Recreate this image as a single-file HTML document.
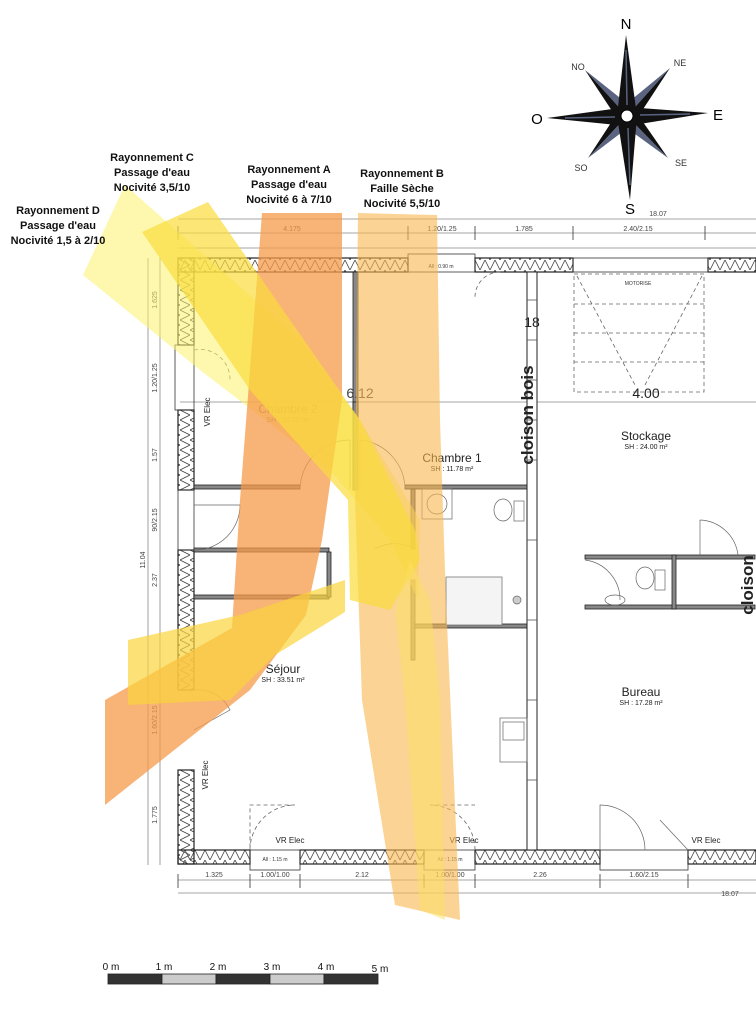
<!DOCTYPE html>
<html><head><meta charset="utf-8"><style>
html,body{margin:0;padding:0;background:#fff;}
svg{display:block;font-family:"Liberation Sans",Arial,sans-serif;}
</style></head><body>
<svg width="756" height="1023" viewBox="0 0 756 1023" xmlns="http://www.w3.org/2000/svg">
<defs>
<pattern id="hatch" width="10" height="10" patternUnits="userSpaceOnUse">
<path d="M0 10 L5 0 L10 10" fill="none" stroke="#444" stroke-width="0.8"/>
</pattern>
<pattern id="hatchv" width="10" height="10" patternUnits="userSpaceOnUse">
<path d="M0 0 L10 5 L0 10" fill="none" stroke="#444" stroke-width="0.8"/>
</pattern>
</defs>

<!-- compass -->
<g>
<polygon points="585,70 634,109 627,116" fill="#5a6480"/>
<polygon points="585,70 620,123 627,116" fill="#111"/>
<polygon points="670,68 620,109 627,116" fill="#5a6480"/>
<polygon points="670,68 634,123 627,116" fill="#111"/>
<polygon points="588,158 620,109 627,116" fill="#111"/>
<polygon points="588,158 634,123 627,116" fill="#5a6480"/>
<polygon points="668,158 634,109 627,116" fill="#111"/>
<polygon points="668,158 620,123 627,116" fill="#5a6480"/>
<polygon points="626,35 617,116 637,116" fill="#111"/>
<polygon points="630,200 617,116 637,116" fill="#111"/>
<polygon points="547,118 627,107 627,126" fill="#111"/>
<polygon points="708,113 627,107 627,126" fill="#111"/>
<line x1="626" y1="50" x2="627" y2="105" stroke="#5a6480" stroke-width="1.5"/>
<line x1="630" y1="185" x2="628" y2="128" stroke="#5a6480" stroke-width="1.5"/>
<line x1="565" y1="118" x2="615" y2="117" stroke="#5a6480" stroke-width="1.5"/>
<line x1="690" y1="114" x2="640" y2="115" stroke="#5a6480" stroke-width="1.5"/>
<circle cx="627" cy="116" r="6" fill="#fff" stroke="#000" stroke-width="1"/>
<text x="626" y="29" font-size="15" text-anchor="middle">N</text>
<text x="630" y="214" font-size="15" text-anchor="middle">S</text>
<text x="537" y="124" font-size="15" text-anchor="middle">O</text>
<text x="718" y="120" font-size="15" text-anchor="middle">E</text>
<text x="578" y="70" font-size="9" text-anchor="middle" fill="#333">NO</text>
<text x="680" y="66" font-size="9" text-anchor="middle" fill="#333">NE</text>
<text x="581" y="171" font-size="9" text-anchor="middle" fill="#333">SO</text>
<text x="681" y="166" font-size="9" text-anchor="middle" fill="#333">SE</text>
</g>

<!-- dimension lines -->
<g stroke="#888" stroke-width="0.8" fill="none">
<line x1="178" y1="219" x2="756" y2="219"/>
<line x1="178" y1="233" x2="756" y2="233"/>
<line x1="178" y1="248" x2="756" y2="248"/>
<line x1="160" y1="258" x2="160" y2="865"/>
<line x1="148" y1="258" x2="148" y2="865"/>
<line x1="178" y1="880" x2="756" y2="880"/>
<line x1="178" y1="893" x2="756" y2="893"/>
<line x1="180" y1="402" x2="756" y2="402"/>
</g>
<g stroke="#333" stroke-width="0.8">
<line x1="178" y1="226" x2="178" y2="240"/><line x1="408" y1="226" x2="408" y2="240"/><line x1="475" y1="226" x2="475" y2="240"/><line x1="573" y1="226" x2="573" y2="240"/><line x1="705" y1="226" x2="705" y2="240"/>
<line x1="178" y1="874" x2="178" y2="888"/><line x1="250" y1="874" x2="250" y2="888"/><line x1="300" y1="874" x2="300" y2="888"/><line x1="424" y1="874" x2="424" y2="888"/><line x1="475" y1="874" x2="475" y2="888"/><line x1="600" y1="874" x2="600" y2="888"/><line x1="688" y1="874" x2="688" y2="888"/>
</g>
<g font-size="7" fill="#444" text-anchor="middle">
<text x="292" y="231">4.175</text><text x="442" y="231">1.20/1.25</text><text x="524" y="231">1.785</text><text x="638" y="231">2.40/2.15</text><text x="658" y="216">18.07</text>
<text x="214" y="877">1.325</text><text x="275" y="877">1.00/1.00</text><text x="362" y="877">2.12</text><text x="450" y="877">1.00/1.00</text><text x="540" y="877">2.26</text><text x="644" y="877">1.60/2.15</text><text x="730" y="896">18.07</text>
<g transform="rotate(-90)"><text x="-300" y="157">1.625</text><text x="-378" y="157">1.20/1.25</text><text x="-455" y="157">1.57</text><text x="-520" y="157">90/2.15</text><text x="-580" y="157">2.37</text><text x="-720" y="157">1.60/2.15</text><text x="-815" y="157">1.775</text><text x="-560" y="145">11.04</text></g>
</g>

<!-- outer walls -->
<g fill="url(#hatch)" stroke="#222" stroke-width="1.2">
<rect x="178" y="258" width="230" height="14"/>
<rect x="475" y="258" width="98" height="14"/>
<rect x="708" y="258" width="48" height="14"/>
<rect x="178" y="850" width="72" height="14"/>
<rect x="300" y="850" width="124" height="14"/>
<rect x="475" y="850" width="125" height="14"/>
<rect x="688" y="850" width="68" height="14"/>
</g>
<g fill="url(#hatchv)" stroke="#222" stroke-width="1.2">
<rect x="178" y="258" width="16" height="87"/>
<rect x="178" y="410" width="16" height="80"/>
<rect x="178" y="550" width="16" height="140"/>
<rect x="178" y="770" width="16" height="94"/>
</g>
<g fill="none" stroke="#333" stroke-width="0.8">
<rect x="408" y="254" width="67" height="18"/>
<rect x="573" y="258" width="135" height="14"/>
<rect x="175" y="345" width="19" height="65"/>
<rect x="178" y="490" width="16" height="60"/>
<rect x="250" y="850" width="50" height="20"/>
<rect x="424" y="850" width="51" height="20"/>
<rect x="600" y="850" width="88" height="20"/>
</g>
<g font-size="5" fill="#333" text-anchor="middle"><text x="441" y="268">All : 0.90 m</text><text x="275" y="861">All : 1.15 m</text><text x="450" y="861">All : 1.15 m</text><text x="638" y="285">MOTORISE</text></g>

<!-- interior walls -->
<g fill="#888" stroke="#222" stroke-width="0.8">
<rect x="353" y="272" width="5" height="140"/>
<rect x="353" y="402" width="5" height="88"/>
<rect x="194" y="485" width="106" height="4"/>
<rect x="405" y="485" width="122" height="4"/>
<rect x="194" y="548" width="135" height="4"/>
<rect x="194" y="595" width="135" height="4"/>
<rect x="327" y="552" width="4" height="45"/>
<rect x="411" y="489" width="4" height="60"/>
<rect x="411" y="580" width="4" height="80"/>
<rect x="415" y="624" width="112" height="4"/>
<rect x="585" y="555" width="170" height="4"/>
<rect x="585" y="605" width="170" height="4"/>
<rect x="672" y="555" width="4" height="54"/>
</g>
<rect x="527" y="272" width="10" height="578" fill="#fff" stroke="#222" stroke-width="1"/>
<g stroke="#555" stroke-width="0.8"><line x1="527" y1="300" x2="537" y2="300"/><line x1="527" y1="340" x2="537" y2="340"/><line x1="527" y1="380" x2="537" y2="380"/><line x1="527" y1="420" x2="537" y2="420"/><line x1="527" y1="460" x2="537" y2="460"/><line x1="527" y1="540" x2="537" y2="540"/><line x1="527" y1="620" x2="537" y2="620"/><line x1="527" y1="700" x2="537" y2="700"/><line x1="527" y1="780" x2="537" y2="780"/></g>

<!-- garage door dashed -->
<g fill="none" stroke="#666" stroke-width="0.8" stroke-dasharray="4,3">
<rect x="574" y="274" width="130" height="118"/>
<line x1="574" y1="304" x2="704" y2="304"/><line x1="574" y1="333" x2="704" y2="333"/><line x1="574" y1="362" x2="704" y2="362"/>
<line x1="577" y1="276" x2="635" y2="385"/><line x1="702" y1="276" x2="645" y2="385"/>
<path d="M500 272 A25 25 0 0 0 475 297"/>
<path d="M250 850 A45 45 0 0 1 295 805 L250 805 Z"/>
<path d="M475 850 A45 45 0 0 0 430 805 L475 805"/>
<path d="M194 350 A30 30 0 0 1 230 380"/>
</g>
<!-- doors -->
<g fill="none" stroke="#666" stroke-width="0.7">
<path d="M300 489 A50 50 0 0 1 350 440 L350 489"/>
<path d="M405 489 A50 50 0 0 0 360 440 L360 489"/>
<path d="M194 550 A45 45 0 0 0 240 505 L194 505"/>
<path d="M415 549 A40 40 0 0 0 375 549"/>
<path d="M194 690 A35 35 0 0 1 230 710 L194 730"/>
<path d="M600 850 L600 805 A45 45 0 0 1 645 850"/>
<path d="M688 850 L660 820"/>
<path d="M585 560 A40 40 0 0 1 620 600"/>
<path d="M700 520 L700 555 M700 520 A40 40 0 0 1 738 555"/>
<rect x="422" y="489" width="30" height="30"/><circle cx="437" cy="504" r="10"/>
<ellipse cx="503" cy="510" rx="9" ry="11"/><rect x="514" y="501" width="10" height="20"/>
<rect x="446" y="577" width="56" height="48" fill="#f4f4f4"/><circle cx="517" cy="600" r="4" fill="#ccc"/>
<rect x="500" y="718" width="27" height="44"/><rect x="503" y="722" width="21" height="18"/>
<ellipse cx="645" cy="578" rx="9" ry="11"/><rect x="655" y="570" width="10" height="20"/>
<ellipse cx="615" cy="600" rx="10" ry="5"/>
</g>

<!-- room labels -->
<g text-anchor="middle" fill="#222">
<text x="288" y="413" font-size="12">Chambre 2</text><text x="288" y="422" font-size="7">SH : 10.75 m²</text>
<text x="452" y="462" font-size="12">Chambre 1</text><text x="452" y="471" font-size="7">SH : 11.78 m²</text>
<text x="646" y="440" font-size="12">Stockage</text><text x="646" y="449" font-size="7">SH : 24.00 m²</text>
<text x="641" y="696" font-size="12">Bureau</text><text x="641" y="705" font-size="7">SH : 17.28 m²</text>
<text x="283" y="673" font-size="12">Séjour</text><text x="283" y="682" font-size="7">SH : 33.51 m²</text>
<text x="360" y="398" font-size="14" fill="#444">6.12</text>
<text x="646" y="398" font-size="14">4.00</text>
<text x="532" y="327" font-size="14">18</text>
<text transform="translate(533,415) rotate(-90)" font-size="17" font-weight="bold">cloison bois</text>
<text transform="translate(753,585) rotate(-90)" font-size="17" font-weight="bold">cloison</text>
<text x="290" y="843" font-size="8">VR Elec</text><text x="464" y="843" font-size="8">VR Elec</text><text x="706" y="843" font-size="8">VR Elec</text>
<text transform="translate(210,412) rotate(-90)" font-size="8">VR Elec</text>
<text transform="translate(208,775) rotate(-90)" font-size="8">VR Elec</text>
</g>

<!-- overlays -->
<g>
<polygon points="83,275 125,185 300,340 360,420 420,520 418,600 390,540 330,470 200,370" fill="#fbf36a" opacity="0.55"/>
<polygon points="262,213 342,213 342,400 322,540 306,615 250,690 105,805 105,700 232,628 240,500" fill="#f59a4a" opacity="0.75"/>
<polygon points="358,213 437,215 440,420 446,600 460,920 395,905 362,700 355,500" fill="#f8b84e" opacity="0.6"/>
<polygon points="142,232 208,202 290,320 360,420 415,530 420,560 390,610 350,600 348,500 250,390" fill="#f9dc3c" opacity="0.7"/>
<polygon points="128,640 240,615 345,580 345,612 275,655 230,700 128,705" fill="#f9d43c" opacity="0.7"/>
<polygon points="410,560 430,600 440,700 445,920 420,910 405,700 395,610" fill="#f9e060" opacity="0.5"/>
</g>

<!-- overlay titles -->
<g font-size="11" font-weight="bold" text-anchor="middle" fill="#111">
<text x="152" y="161">Rayonnement C</text><text x="152" y="176">Passage d'eau</text><text x="152" y="191">Nocivité 3,5/10</text>
<text x="289" y="173">Rayonnement A</text><text x="289" y="188">Passage d'eau</text><text x="289" y="203">Nocivité 6 à 7/10</text>
<text x="402" y="177">Rayonnement B</text><text x="402" y="192">Faille Sèche</text><text x="402" y="207">Nocivité 5,5/10</text>
<text x="58" y="214">Rayonnement D</text><text x="58" y="229">Passage d'eau</text><text x="58" y="244">Nocivité 1,5 à 2/10</text>
</g>

<!-- scale bar -->
<g stroke="#222" stroke-width="0.8">
<rect x="108" y="974" width="54" height="10" fill="#333"/>
<rect x="162" y="974" width="54" height="10" fill="#ccc"/>
<rect x="216" y="974" width="54" height="10" fill="#333"/>
<rect x="270" y="974" width="54" height="10" fill="#ccc"/>
<rect x="324" y="974" width="54" height="10" fill="#333"/>
</g>
<g font-size="10" fill="#111" text-anchor="middle">
<text x="111" y="970">0 m</text><text x="164" y="970">1 m</text><text x="218" y="970">2 m</text><text x="272" y="970">3 m</text><text x="326" y="970">4 m</text><text x="380" y="972">5 m</text>
</g>
</svg>
</body></html>
